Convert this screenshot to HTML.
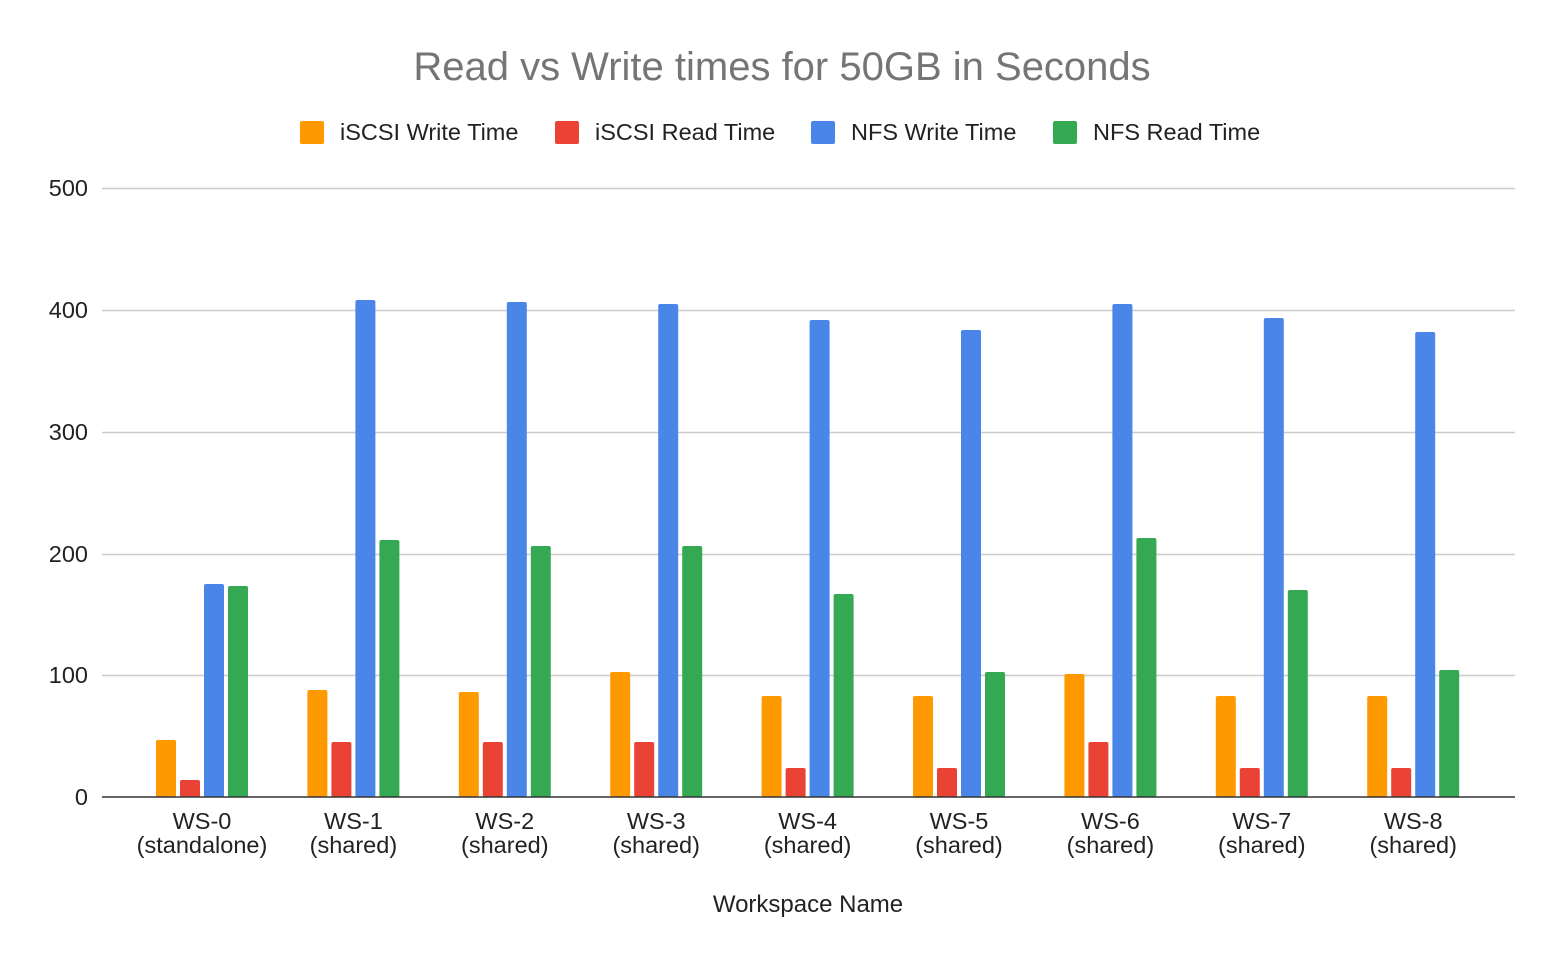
<!DOCTYPE html>
<html><head><meta charset="utf-8"><style>
body{margin:0;background:#fff}
text{font-family:"Liberation Sans",Arial,sans-serif}
</style></head><body>
<svg width="1564" height="966" xmlns="http://www.w3.org/2000/svg">
<rect width="1564" height="966" fill="#fff"/>
<text x="782" y="80" font-size="40" fill="#757575" text-anchor="middle">Read vs Write times for 50GB in Seconds</text>
<g font-size="23.5" fill="#222">
<rect x="300" y="121" width="24" height="23" rx="2" fill="#ff9900"/><text x="340" y="140">iSCSI Write Time</text>
<rect x="555" y="121" width="24" height="23" rx="2" fill="#ea4335"/><text x="595" y="140">iSCSI Read Time</text>
<rect x="811" y="121" width="24" height="23" rx="2" fill="#4a86e8"/><text x="851" y="140">NFS Write Time</text>
<rect x="1053" y="121" width="24" height="23" rx="2" fill="#34a853"/><text x="1093" y="140">NFS Read Time</text>
</g>
<g stroke="#cccccc" stroke-width="1.5">
<line x1="102" x2="1515" y1="188.5" y2="188.5"/><line x1="102" x2="1515" y1="310.5" y2="310.5"/>
<line x1="102" x2="1515" y1="432.5" y2="432.5"/><line x1="102" x2="1515" y1="554.5" y2="554.5"/>
<line x1="102" x2="1515" y1="675.5" y2="675.5"/>
</g>
<g font-size="23.5" fill="#222" text-anchor="end">
<text x="88" y="196">500</text><text x="88" y="318">400</text><text x="88" y="440">300</text>
<text x="88" y="562">200</text><text x="88" y="683">100</text><text x="88" y="805">0</text>
</g>
<g>
<g transform="translate(156,0)"><rect x="0" y="740" width="20" height="57" rx="2" fill="#ff9900"/><rect x="24" y="780" width="20" height="17" rx="2" fill="#ea4335"/><rect x="48" y="584" width="20" height="213" rx="2" fill="#4a86e8"/><rect x="72" y="586" width="20" height="211" rx="2" fill="#34a853"/></g>
<g transform="translate(307.4,0)"><rect x="0" y="690" width="20" height="107" rx="2" fill="#ff9900"/><rect x="24" y="742" width="20" height="55" rx="2" fill="#ea4335"/><rect x="48" y="300" width="20" height="497" rx="2" fill="#4a86e8"/><rect x="72" y="540" width="20" height="257" rx="2" fill="#34a853"/></g>
<g transform="translate(458.8,0)"><rect x="0" y="692" width="20" height="105" rx="2" fill="#ff9900"/><rect x="24" y="742" width="20" height="55" rx="2" fill="#ea4335"/><rect x="48" y="302" width="20" height="495" rx="2" fill="#4a86e8"/><rect x="72" y="546" width="20" height="251" rx="2" fill="#34a853"/></g>
<g transform="translate(610.2,0)"><rect x="0" y="672" width="20" height="125" rx="2" fill="#ff9900"/><rect x="24" y="742" width="20" height="55" rx="2" fill="#ea4335"/><rect x="48" y="304" width="20" height="493" rx="2" fill="#4a86e8"/><rect x="72" y="546" width="20" height="251" rx="2" fill="#34a853"/></g>
<g transform="translate(761.6,0)"><rect x="0" y="696" width="20" height="101" rx="2" fill="#ff9900"/><rect x="24" y="768" width="20" height="29" rx="2" fill="#ea4335"/><rect x="48" y="320" width="20" height="477" rx="2" fill="#4a86e8"/><rect x="72" y="594" width="20" height="203" rx="2" fill="#34a853"/></g>
<g transform="translate(913,0)"><rect x="0" y="696" width="20" height="101" rx="2" fill="#ff9900"/><rect x="24" y="768" width="20" height="29" rx="2" fill="#ea4335"/><rect x="48" y="330" width="20" height="467" rx="2" fill="#4a86e8"/><rect x="72" y="672" width="20" height="125" rx="2" fill="#34a853"/></g>
<g transform="translate(1064.4,0)"><rect x="0" y="674" width="20" height="123" rx="2" fill="#ff9900"/><rect x="24" y="742" width="20" height="55" rx="2" fill="#ea4335"/><rect x="48" y="304" width="20" height="493" rx="2" fill="#4a86e8"/><rect x="72" y="538" width="20" height="259" rx="2" fill="#34a853"/></g>
<g transform="translate(1215.8,0)"><rect x="0" y="696" width="20" height="101" rx="2" fill="#ff9900"/><rect x="24" y="768" width="20" height="29" rx="2" fill="#ea4335"/><rect x="48" y="318" width="20" height="479" rx="2" fill="#4a86e8"/><rect x="72" y="590" width="20" height="207" rx="2" fill="#34a853"/></g>
<g transform="translate(1367.2,0)"><rect x="0" y="696" width="20" height="101" rx="2" fill="#ff9900"/><rect x="24" y="768" width="20" height="29" rx="2" fill="#ea4335"/><rect x="48" y="332" width="20" height="465" rx="2" fill="#4a86e8"/><rect x="72" y="670" width="20" height="127" rx="2" fill="#34a853"/></g>
</g>
<line x1="102" x2="1515" y1="797" y2="797" stroke="#333" stroke-width="1.5"/>
<g font-size="23.5" fill="#222" text-anchor="middle">
<text x="202" y="829">WS-0</text><text x="202" y="853">(standalone)</text>
<text x="353.4" y="829">WS-1</text><text x="353.4" y="853">(shared)</text>
<text x="504.8" y="829">WS-2</text><text x="504.8" y="853">(shared)</text>
<text x="656.2" y="829">WS-3</text><text x="656.2" y="853">(shared)</text>
<text x="807.6" y="829">WS-4</text><text x="807.6" y="853">(shared)</text>
<text x="959" y="829">WS-5</text><text x="959" y="853">(shared)</text>
<text x="1110.4" y="829">WS-6</text><text x="1110.4" y="853">(shared)</text>
<text x="1261.8" y="829">WS-7</text><text x="1261.8" y="853">(shared)</text>
<text x="1413.2" y="829">WS-8</text><text x="1413.2" y="853">(shared)</text>
</g>
<text x="808" y="912" font-size="24" fill="#222" text-anchor="middle">Workspace Name</text>
</svg>
</body></html>
